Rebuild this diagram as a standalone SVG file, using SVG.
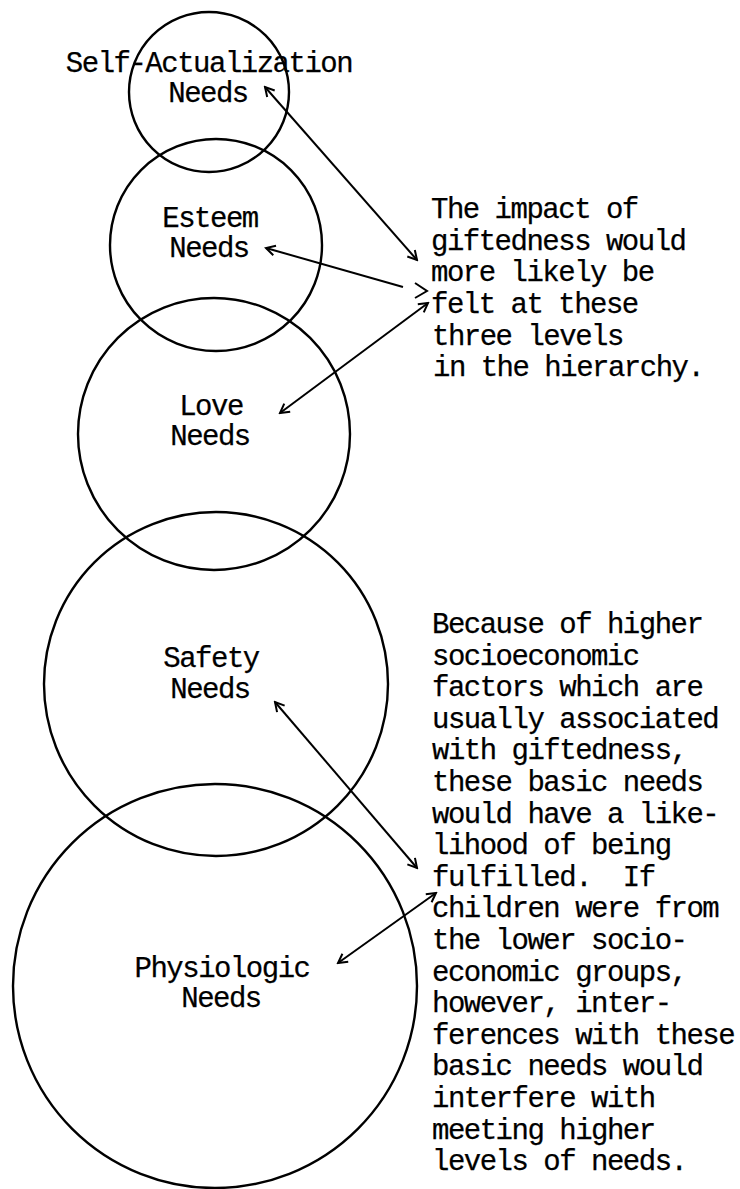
<svg xmlns="http://www.w3.org/2000/svg" width="740" height="1189" viewBox="0 0 740 1189">
<style>
  .c { fill: none; stroke: #000; stroke-width: 2.4; }
  .t { font-family: "Liberation Mono", "Courier New", monospace; font-size: 29px; letter-spacing: -1.5px; fill: #000; stroke: #000; stroke-width: 0.25px; }
  .m { text-anchor: middle; }
  .a { fill: none; stroke: #000; stroke-width: 2; }
</style>
<defs>
  <marker id="ah" viewBox="0 0 14 14" refX="12" refY="7" markerWidth="14" markerHeight="14" markerUnits="userSpaceOnUse" orient="auto-start-reverse">
    <path d="M3,2 L12,7 L3,12" fill="none" stroke="#000" stroke-width="2"/>
  </marker>
</defs>
<rect width="740" height="1189" fill="#fff"/>

<g id="self-actualization">
  <circle class="c" cx="209" cy="92" r="80"/>
  <text class="t m" x="209" y="72">Self-Actualization</text>
  <text class="t m" x="208" y="102">Needs</text>
</g>
<g id="esteem">
  <circle class="c" cx="216" cy="245" r="106"/>
  <text class="t m" x="210" y="227">Esteem</text>
  <text class="t m" x="209" y="257">Needs</text>
</g>
<g id="love">
  <circle class="c" cx="214" cy="434" r="136"/>
  <text class="t m" x="211" y="415">Love</text>
  <text class="t m" x="210" y="445">Needs</text>
</g>
<g id="safety">
  <circle class="c" cx="216" cy="684" r="172"/>
  <text class="t m" x="211" y="667">Safety</text>
  <text class="t m" x="210" y="698">Needs</text>
</g>
<g id="physiologic">
  <circle class="c" cx="215" cy="986" r="202"/>
  <text class="t m" x="222" y="977">Physiologic</text>
  <text class="t m" x="221" y="1007">Needs</text>
</g>

<g id="note-higher">
  <text class="t" x="431" y="218">The impact of</text>
  <text class="t" x="431" y="250">giftedness would</text>
  <text class="t" x="431" y="281">more likely be</text>
  <text class="t" x="431" y="313">felt at these</text>
  <text class="t" x="432" y="345">three levels</text>
  <text class="t" x="433" y="376">in the hierarchy.</text>
</g>

<g id="note-basic">
  <text class="t" x="432" y="633">Because of higher</text>
  <text class="t" x="432" y="665">socioeconomic</text>
  <text class="t" x="432" y="696">factors which are</text>
  <text class="t" x="432" y="728">usually associated</text>
  <text class="t" x="432" y="759">with giftedness,</text>
  <text class="t" x="432" y="791">these basic needs</text>
  <text class="t" x="432" y="823">would have a like-</text>
  <text class="t" x="432" y="854">lihood of being</text>
  <text class="t" x="432" y="886" xml:space="preserve">fulfilled.  If</text>
  <text class="t" x="432" y="917">children were from</text>
  <text class="t" x="432" y="949">the lower socio-</text>
  <text class="t" x="432" y="981">economic groups,</text>
  <text class="t" x="432" y="1012">however, inter-</text>
  <text class="t" x="432" y="1044">ferences with these</text>
  <text class="t" x="432" y="1075">basic needs would</text>
  <text class="t" x="432" y="1107">interfere with</text>
  <text class="t" x="432" y="1139">meeting higher</text>
  <text class="t" x="432" y="1170">levels of needs.</text>
</g>

<g id="connectors">
  <line class="a" x1="265" y1="87" x2="417" y2="260" marker-start="url(#ah)" marker-end="url(#ah)"/>
  <line class="a" x1="403" y1="287" x2="266" y2="248" marker-end="url(#ah)"/>
  <path class="a" d="M415,283 L427,291 L415,298"/>
  <line class="a" x1="428" y1="303" x2="280" y2="413" marker-start="url(#ah)" marker-end="url(#ah)"/>
  <line class="a" x1="275" y1="702" x2="417" y2="868" marker-start="url(#ah)" marker-end="url(#ah)"/>
  <line class="a" x1="436" y1="893" x2="338" y2="963" marker-start="url(#ah)" marker-end="url(#ah)"/>
</g>
</svg>
